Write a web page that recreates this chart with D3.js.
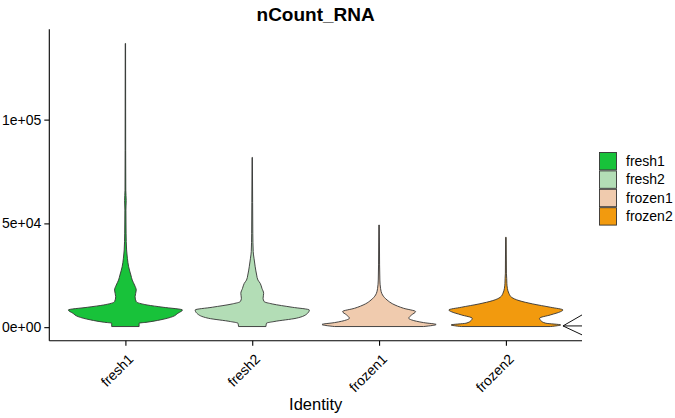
<!DOCTYPE html>
<html>
<head>
<meta charset="utf-8">
<script src="https://cdn.jsdelivr.net/npm/d3@7"></script>
<style>
  body { margin: 0; background: #fff; }
  text { font-family: "Liberation Sans", Arial, Helvetica, sans-serif; fill: #000; }
</style>
</head>
<body>
<div id="chart"></div>
<script>
// groups and colours
var groups = ["fresh1", "fresh2", "frozen1", "frozen2"];
var colors = ["#18C23A", "#B3DDB6", "#F0CBAE", "#F29A0E"];

// density outlines: nCount value -> relative half width (max = 1)
var fresh1Count = [300, 1900, 2400, 3500, 5100, 6700, 8300, 9600, 10700, 12300, 14700, 17900, 20300, 22700, 25100, 29100, 33200, 37200, 45300, 56400, 61000, 66000, 85000, 136700];
var fresh1Width = [0.24, 0.24, 0.38, 0.61, 0.83, 0.92, 1, 0.66, 0.38, 0.19, 0.17, 0.19, 0.16, 0.12, 0.096, 0.057, 0.035, 0.021, 0.012, 0.009, 0.014, 0.007, 0.005, 0.003];

var fresh2Count = [300, 1900, 2700, 4300, 6700, 8300, 9600, 11200, 12300, 13900, 16300, 18700, 21100, 22700, 25100, 29100, 33200, 36400, 45000, 60000, 81800];
var fresh2Width = [0.24, 0.25, 0.38, 0.77, 0.97, 1, 0.70, 0.35, 0.21, 0.19, 0.2, 0.17, 0.14, 0.10, 0.078, 0.052, 0.031, 0.017, 0.010, 0.007, 0.003];

var frozen1Count = [300, 1300, 2200, 3500, 4300, 5900, 7500, 9100, 11200, 13100, 15500, 18700, 22700, 30000, 49200];
var frozen1Width = [0.78, 1, 0.78, 0.57, 0.52, 0.57, 0.64, 0.43, 0.24, 0.14, 0.061, 0.026, 0.014, 0.009, 0.005];

var frozen2Count = [300, 1100, 1900, 3200, 4300, 5900, 7500, 8300, 9600, 11200, 12800, 14400, 16300, 18700, 21100, 23500, 26000, 43300];
var frozen2Width = [0.78, 0.96, 0.70, 0.61, 0.59, 0.78, 0.96, 1, 0.78, 0.47, 0.23, 0.10, 0.052, 0.026, 0.017, 0.014, 0.009, 0.005];

// stray "<" mark at the right end of the panel (x in group units, y in counts)
var strayX = [4.60, 4.45, 4.60];
var strayY = [5900, 600, -3700];

var yTicks = [0, 50000, 100000];
var yTickLabels = ["0e+00", "5e+04", "1e+05"];

var counts = [fresh1Count, fresh2Count, frozen1Count, frozen2Count];
var widths = [fresh1Width, fresh2Width, frozen1Width, frozen2Width];

var W = 675, H = 418;
var panel = {left: 49.3, right: 582, top: 29.3, bottom: 340.7};

var svg = d3.select("#chart").append("svg").attr("width", W).attr("height", H);
svg.append("rect").attr("width", W).attr("height", H).attr("fill", "#fff");

// discrete axis with ggplot's 0.6 expansion
var x = d3.scaleLinear().domain([0.4, 4.6]).range([panel.left, panel.right]);
var allCounts = d3.merge(counts);
var lo = d3.min(allCounts), hi = d3.max(allCounts), pad = (hi - lo) * 0.05;
var y = d3.scaleLinear().domain([lo - pad, hi + pad]).range([panel.bottom, panel.top]);
var halfW = 0.45 * (x(2) - x(1));

// violins
groups.forEach(function(g, i) {
  var pts = counts[i].map(function(c, j) { return {c: c, w: widths[i][j]}; });
  var cx = x(i + 1);
  var area = d3.area()
    .y(d => y(d.c))
    .x0(d => cx - d.w * halfW)
    .x1(d => cx + d.w * halfW)
    .curve(d3.curveMonotoneY);
  svg.append("path")
    .attr("d", area(pts))
    .attr("fill", colors[i])
    .attr("stroke", "#333")
    .attr("stroke-width", 0.9)
    .attr("stroke-linejoin", "round");
});

// stray mark
var strayPts = strayX.map((v, j) => [x(v), y(strayY[j])]);
svg.append("path")
  .attr("d", d3.line()(strayPts) + "M" + strayPts[1].join(",") + "L" + x(strayX[0]) + "," + y(strayY[1]))
  .attr("fill", "none").attr("stroke", "#111").attr("stroke-width", 1);

// axes
var yAxis = svg.append("g").attr("transform", "translate(" + panel.left + ",0)")
  .call(d3.axisLeft(y).tickValues(yTicks).tickFormat((d, i) => yTickLabels[i]).tickSize(5).tickPadding(3));
var xAxis = svg.append("g").attr("transform", "translate(0," + panel.bottom + ")")
  .call(d3.axisBottom(x).tickValues([1, 2, 3, 4]).tickFormat(d => groups[d - 1]).tickSize(5));
yAxis.select(".domain").attr("d", "M0," + panel.top + "V" + panel.bottom);
xAxis.select(".domain").attr("d", "M" + panel.left + ",0H" + panel.right);
svg.selectAll(".domain, .tick line").attr("stroke", "#000").attr("stroke-width", 1.1);
yAxis.selectAll("text").attr("font-size", 14).attr("font-family", "Liberation Sans, Arial, sans-serif").attr("fill", "#000");
xAxis.selectAll("text")
  .attr("font-size", 14).attr("font-family", "Liberation Sans, Arial, sans-serif").attr("fill", "#000")
  .attr("text-anchor", "end").attr("dy", null).attr("y", 0)
  .attr("transform", "translate(1,12) rotate(-45)")
  .attr("dominant-baseline", "hanging");

// titles
svg.append("text").attr("x", (panel.left + panel.right) / 2).attr("y", 21)
  .attr("text-anchor", "middle").attr("font-size", 19).attr("font-weight", "bold").text("nCount_RNA");
svg.append("text").attr("x", (panel.left + panel.right) / 2).attr("y", 410)
  .attr("text-anchor", "middle").attr("font-size", 16.5).text("Identity");

// legend
var leg = svg.append("g").attr("transform", "translate(599,152)");
groups.forEach(function(g, i) {
  var row = leg.append("g").attr("transform", "translate(0," + i * 18.4 + ")");
  row.append("rect").attr("x", 0.5).attr("y", 0.5).attr("width", 17).attr("height", 17.4)
    .attr("fill", colors[i]).attr("stroke", "#333").attr("stroke-width", 0.9);
  row.append("text").attr("x", 27).attr("y", 9.2).attr("dy", "0.35em")
    .attr("font-size", 14).text(g);
});
</script>
</body>
</html>
